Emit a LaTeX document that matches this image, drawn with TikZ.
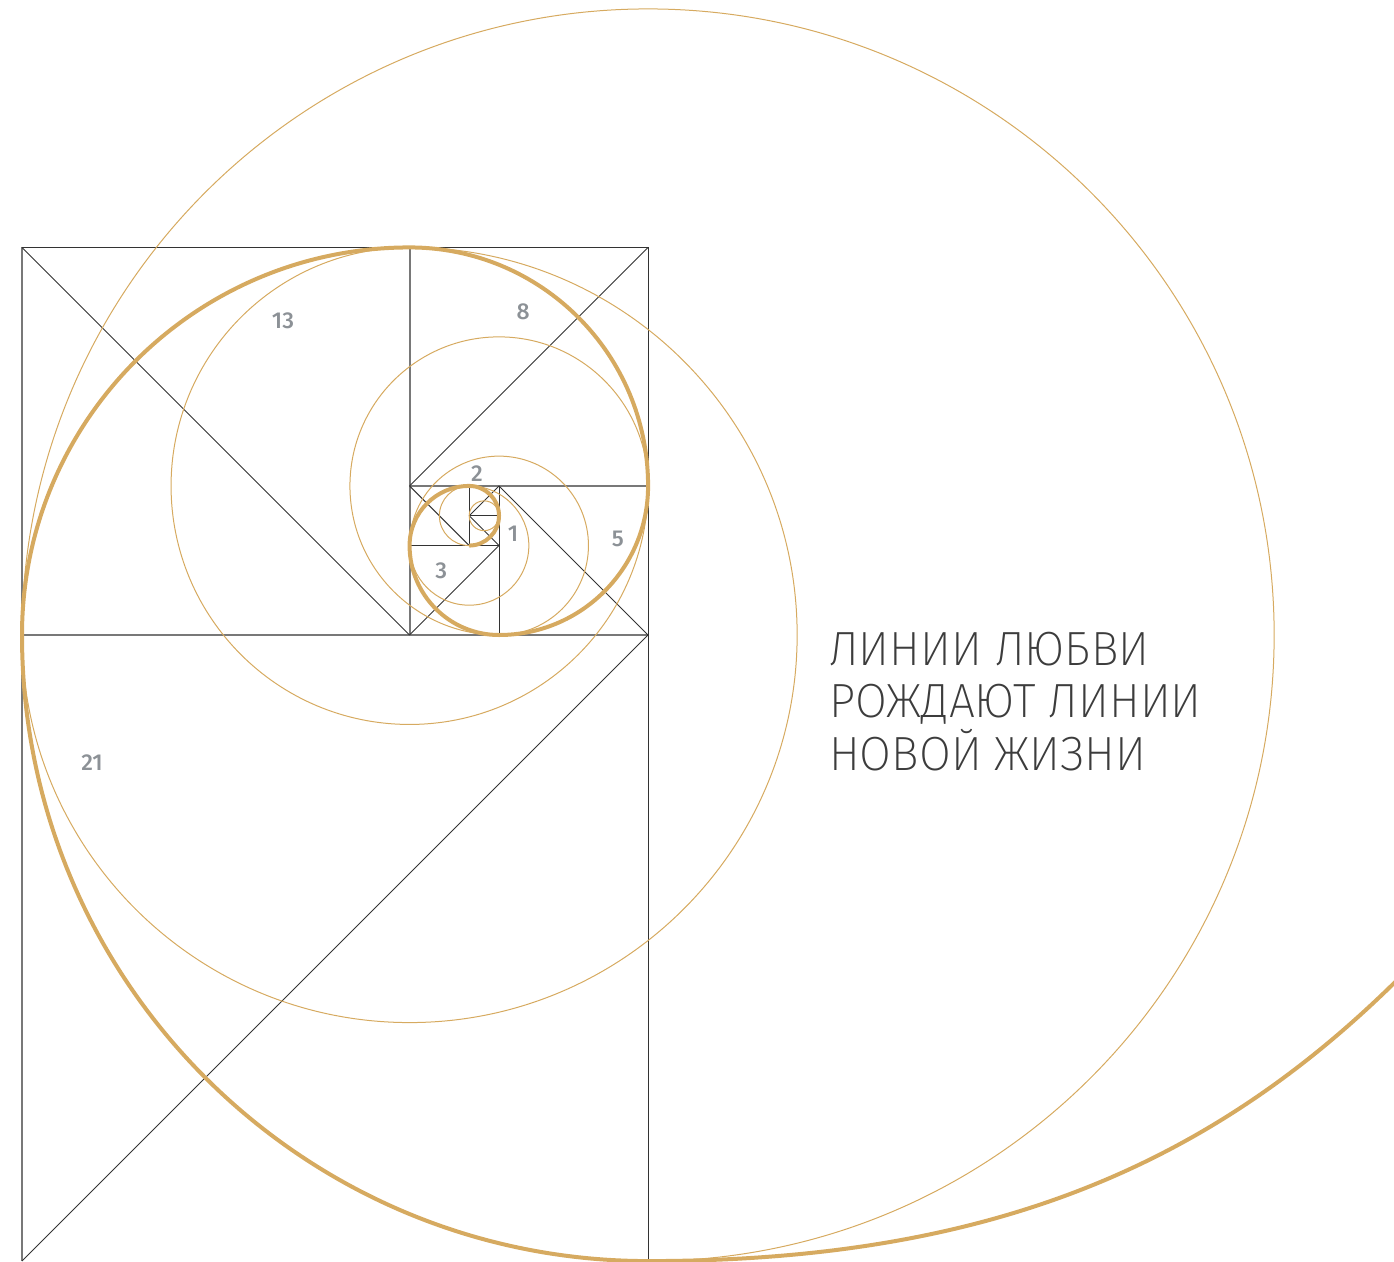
\documentclass[tikz,border=0pt]{standalone}
\usepackage{fontspec}
\newfontfamily\lightfont{Fira Sans ExtraLight}
\newfontfamily\numfont{Fira Sans Medium}
\usepackage{tikz}
\usetikzlibrary{calc}

\definecolor{spiralgold}{RGB}{214,170,96}
\definecolor{framegray}{RGB}{120,120,120}
\definecolor{inkgray}{RGB}{60,60,60}
\definecolor{labelgray}{RGB}{140,145,150}

\tikzset{
  frameline/.style={draw=framegray, line width=2pt},
  diagline/.style={draw=black!80, line width=0.9pt},
  goldthin/.style={draw=spiralgold, line width=1pt},
  goldthick/.style={draw=spiralgold, line width=4pt},
  fibnum/.style={font=\numfont\fontsize{23}{23}\selectfont, text=labelgray, inner sep=0pt},
  motto/.style={font=\lightfont\fontsize{48}{52}\selectfont, text=inkgray, inner sep=0pt,
                anchor=base west, xscale=0.96, transform shape},
}

\begin{document}
\begin{tikzpicture}[x=29.81pt, y=29.81pt]
  \useasboundingbox (-0.738,0) rectangle (46.02,42.30);

  %% Frame of the squares
  \draw[frameline] (0,0) -- (0,34);
  \draw[frameline] (0,21) -- (21,21);
  \draw[frameline] (13,21) -- (13,34);
  \draw[frameline] (13,26) -- (21,26);
  \draw[diagline] (0,34) -- (21,34) -- (21,0);
  \draw[diagline] (16,21) -- (16,26);
  \draw[diagline] (13,24) -- (16,24);
  \draw[diagline] (15,24) -- (15,26);
  \draw[diagline] (15,25) -- (16,25);

  %% Diagonals
  \foreach \ax/\ay/\bx/\by in {0/0/21/21, 0/34/13/21, 13/26/21/34, 16/26/21/21,
                               13/21/16/24, 13/26/15/24, 15/25/16/26, 15/25/16/24}{
    \draw[diagline] (\ax,\ay) -- (\bx,\by);
  }

  %% Full circles
  \foreach \cx/\cy/\r in {21/21/21, 13/21/13, 13/26/8, 16/26/5,
                          16/24/3, 15/24/2, 15/25/1, 15.5/25/0.5}{
    \draw[goldthin] (\cx,\cy) circle (\r);
  }

  %% Spiral
  \draw[goldthick] (15,24)
    arc[start angle=-90, end angle=90, radius=1]
    arc[start angle=90, end angle=180, radius=2]
    arc[start angle=180, end angle=270, radius=3]
    arc[start angle=270, end angle=360, radius=5]
    arc[start angle=0, end angle=90, radius=8]
    arc[start angle=90, end angle=180, radius=13]
    arc[start angle=180, end angle=270, radius=21]
    .. controls (32.74,0) and (40.09,3.39) .. (46.3,9.6);

  %% Square sizes
  \node[fibnum] (n21) at (2.35,16.71) {21};
  \node[fibnum] (n13) at (8.755,31.53) {13};
  \node[fibnum] (n8) at (16.81,31.83) {8};
  \node[fibnum] (n5) at (19.99,24.22) {5};
  \node[fibnum] (n3) at (14.06,23.15) {3};
  \node[fibnum] (n2) at (15.26,26.40) {2};
  \node[fibnum] (n1) at (16.47,24.39) {1};

  %% Motto
  \node[motto] (line1) at (27.07,19.99) {ЛИНИИ ЛЮБВИ};
  \node[motto] (line2) at (27.07,18.22) {РОЖДАЮТ ЛИНИИ};
  \node[motto] (line3) at (27.07,16.47) {НОВОЙ ЖИЗНИ};
\end{tikzpicture}
\end{document}
